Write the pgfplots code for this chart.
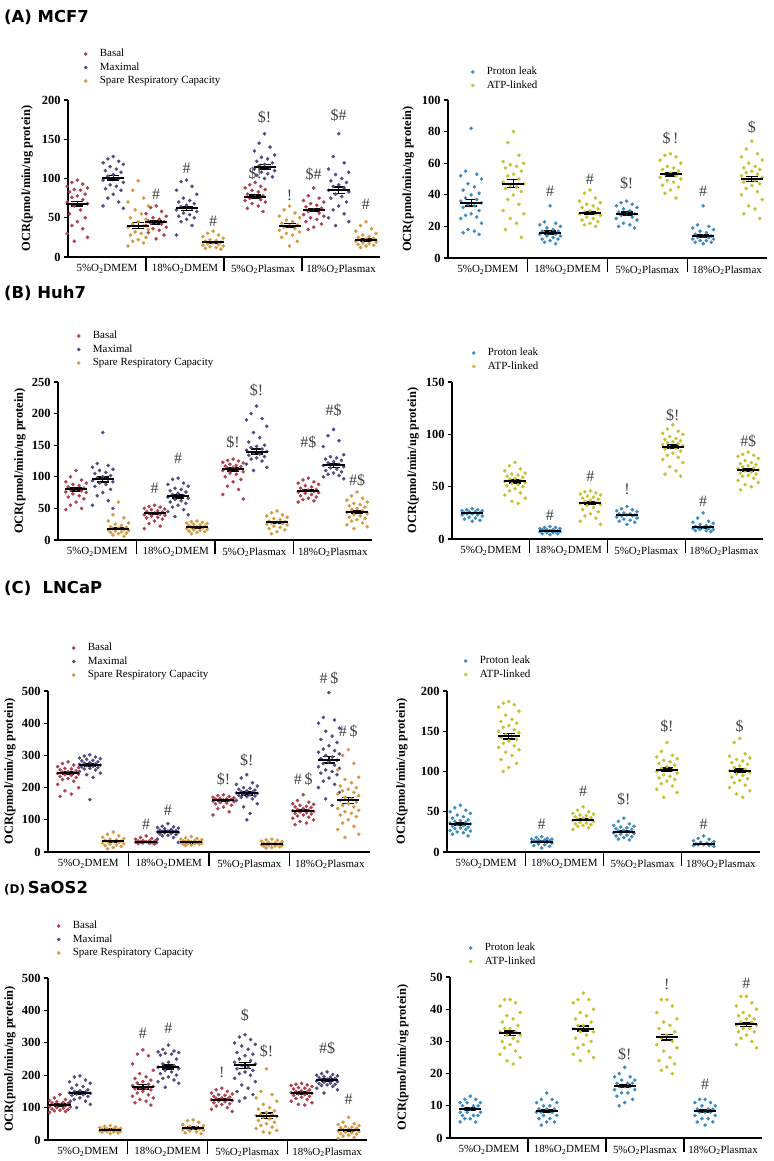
\documentclass[border=0pt]{standalone}
\usepackage{fontspec}
\setmainfont{Liberation Serif}
\newfontfamily\titlefont{DejaVu Sans}
\usepackage{pgfplots}
\pgfplotsset{compat=1.18}
\definecolor{bas}{HTML}{B0414F}
\definecolor{mx}{HTML}{504C88}
\definecolor{sp}{HTML}{D69A3E}
\definecolor{pl}{HTML}{3D8CC0}
\definecolor{atp}{HTML}{C8C02F}
\newcommand{\clus}[3]{\addplot[forget plot, only marks, mark=*, mark size=1.6bp, color=#1, x filter/.expression={x/100+#2}] coordinates {#3};}
\newcommand{\means}[1]{\addplot[forget plot, only marks, mark=-, mark size=11bp, mark options={line width=2bp}, color=black, error bars/.cd, y dir=both, y explicit, error mark=|, error mark options={mark size=6bp, line width=1.4bp, black}, error bar style={line width=1.2bp, black}] coordinates {#1};}
\newcommand{\ann}[3]{\node[font=\fontsize{16}{16}\selectfont, text=black!75, inner sep=0pt] at (axis cs:#1,#2) {#3};}
\pgfplotsset{
  base/.style={scale only axis, xmin=0, xmax=4, ymin=0, clip=false,
    axis x line*=bottom, axis y line*=left,
    axis line style={line width=1.2bp, -},
    xtick={0.5,1.5,2.5,3.5},
    xticklabels={5\%O\textsubscript{2}DMEM, 18\%O\textsubscript{2}DMEM, 5\%O\textsubscript{2}Plasmax, 18\%O\textsubscript{2}Plasmax},
    minor xtick={1,2,3},
    minor tick length=14bp,
    major tick length=4bp,
    tick align=outside,
    tick style={line width=1.2bp, black},
    every major x tick/.append style={draw=none},
    xticklabel style={font=\fontsize{11}{12}\selectfont},
    yticklabel style={font=\bfseries\fontsize{12.5}{12}\selectfont},
    /pgf/number format/assume math mode=true,
    ylabel={OCR(pmol/min/ug protein)},
    legend style={draw=none, fill=none, inner sep=0pt, font=\fontsize{11}{12}\selectfont, nodes={inner sep=1.5bp, text height=8bp, text depth=2.5bp}, anchor=north west, /tikz/every odd column/.append style={column sep=11bp}},
    legend cell align=left,
  },
  ylabpos/.style={every axis y label/.style={at={(axis description cs:#1,0.5)}, rotate=90, anchor=center, font=\bfseries\fontsize{12.5}{14}\selectfont}},
  legpos/.style 2 args={legend style={at={(axis description cs:0,1)}, xshift=#1, yshift=#2}},
}
\begin{document}
\begin{tikzpicture}
\useasboundingbox (0,0) rectangle (774bp,-1161bp);
\node[anchor=west, font=\titlefont\bfseries\fontsize{16.5}{20}\selectfont, inner sep=0pt] at (4bp,-17bp) {(A) MCF7};
\node[anchor=west, font=\titlefont\bfseries\fontsize{16.5}{20}\selectfont, inner sep=0pt] at (4bp,-293bp) {(B) Huh7};
\node[anchor=west, font=\titlefont\bfseries\fontsize{16.5}{20}\selectfont, inner sep=0pt] at (4bp,-588bp) {(C)\ \ LNCaP};
\node[anchor=west, font=\titlefont\bfseries\fontsize{16.5}{20}\selectfont, inner sep=0pt] at (4bp,-888bp) {{\fontsize{12}{14}\selectfont(D)}\,SaOS2};

% ---------------- A left
\begin{axis}[base, at={(68bp,-257bp)}, anchor=south west, width=312bp, height=157bp, ymax=200, ytick={0,50,...,200}, ylabpos=-0.131, legpos={16bp}{53bp}]
\addlegendimage{only marks, mark=*, mark size=1.6bp, color=bas}\addlegendentry{Basal}
\addlegendimage{only marks, mark=*, mark size=1.6bp, color=mx}\addlegendentry{Maximal}
\addlegendimage{only marks, mark=*, mark size=1.6bp, color=sp}\addlegendentry{Spare Respiratory Capacity}
\clus{bas}{0.12}{(0,98)(-7,95)(7,93)(-13,90)(13,88)(-4,86)(4,85)(-10,83)(10,80)(0,78)(-7,76)(7,73)(-13,70)(13,68)(-4,65)(4,60)(-10,55)(10,50)(0,45)(-7,40)(7,36)(-13,30)(13,25)(-4,20)}
\clus{bas}{1.13}{(0,65)(-7,63)(7,58)(-13,55)(13,52)(-4,50)(4,48)(-10,46)(10,45)(0,44)(-7,43)(7,42)(-13,40)(13,38)(-4,36)(4,34)(-10,31)(10,28)(0,23)}
\clus{bas}{2.40}{(0,95)(-7,92)(7,90)(-13,88)(13,86)(-4,85)(4,83)(-10,80)(10,78)(0,77)(-7,75)(7,73)(-13,72)(13,70)(-4,68)(4,65)(-10,62)(10,58)}
\clus{bas}{3.15}{(0,88)(-7,78)(7,75)(-13,72)(13,70)(-4,68)(4,66)(-10,64)(10,62)(0,60)(-7,58)(7,56)(-13,54)(13,52)(-4,50)(4,48)(-10,45)(10,42)(0,38)(-7,35)}
\clus{mx}{0.58}{(0,128)(-7,125)(7,122)(-13,120)(13,118)(-4,115)(4,112)(-10,110)(10,108)(0,105)(-7,103)(7,100)(-13,98)(13,95)(-4,92)(4,90)(-10,87)(10,85)(0,80)(-7,75)(7,70)(-13,65)(13,62)}
\clus{mx}{1.52}{(0,98)(-7,96)(7,90)(-13,85)(13,80)(-4,75)(4,72)(-10,70)(10,68)(0,66)(-7,64)(7,62)(-13,60)(13,58)(-4,56)(4,54)(-10,52)(10,50)(0,48)(-7,45)(7,40)(-13,28)}
\clus{mx}{2.52}{(0,157)(-7,145)(7,140)(-13,135)(13,130)(-4,127)(4,125)(-10,122)(10,120)(0,118)(-7,116)(7,114)(-13,112)(13,110)(-4,108)(4,106)(-10,104)(10,102)(0,100)}
\clus{mx}{3.47}{(0,157)(-7,128)(7,120)(-13,112)(13,108)(-4,105)(4,100)(-10,97)(10,95)(0,92)(-7,90)(7,88)(-13,85)(13,83)(-4,80)(4,77)(-10,75)(10,70)(0,65)(-7,60)(7,55)(-13,50)(13,45)(-4,40)}
\clus{sp}{0.90}{(0,97)(-7,85)(7,75)(-13,70)(13,65)(-4,60)(4,55)(-10,50)(10,48)(0,45)(-7,42)(7,40)(-13,38)(13,35)(-4,32)(4,30)(-10,28)(10,25)(0,22)(-7,20)(7,18)(-13,14)}
\clus{sp}{1.86}{(0,33)(-7,30)(7,28)(-13,26)(13,24)(-4,22)(4,21)(-10,20)(10,19)(0,18)(-7,17)(7,16)(-13,15)(13,14)(-4,13)(4,12)(-10,11)(10,10)}
\clus{sp}{2.84}{(0,65)(-7,60)(7,56)(-13,52)(13,50)(-4,47)(4,45)(-10,43)(10,41)(0,40)(-7,38)(7,36)(-13,34)(13,32)(-4,30)(4,28)(-10,25)(10,20)(0,14)}
\clus{sp}{3.82}{(0,45)(-7,40)(7,36)(-13,33)(13,30)(-4,28)(4,26)(-10,25)(10,24)(0,23)(-7,22)(7,21)(-13,20)(13,19)(-4,18)(4,17)(-10,16)(10,15)(0,14)(-7,12)}
\means{(0.12,68)+-(0,3)(0.58,101)+-(0,3)(0.90,40)+-(0,4)(1.13,44)+-(0,2)(1.52,62)+-(0,2.5)(1.86,19)+-(0,1)(2.40,77)+-(0,2)(2.52,115)+-(0,3)(2.84,40)+-(0,2.5)(3.15,60)+-(0,2)(3.47,85)+-(0,4)(3.82,22)+-(0,1.5)}
\ann{1.13}{80}{\#}\ann{1.52}{113}{\#}\ann{1.86}{45}{\#}
\ann{2.40}{107}{\$!}\ann{2.52}{178}{\$!}\ann{2.84}{78}{!}
\ann{3.15}{105}{\$\#}\ann{3.47}{180}{\$\#}\ann{3.82}{67}{\#}
\end{axis}

% ---------------- A right
\begin{axis}[base, at={(448bp,-258bp)}, anchor=south west, width=319bp, height=158bp, ymax=100, ytick={0,20,...,100}, ylabpos=-0.125, legpos={23bp}{35bp}]
\addlegendimage{only marks, mark=*, mark size=1.6bp, color=pl}\addlegendentry{Proton leak}
\addlegendimage{only marks, mark=*, mark size=1.6bp, color=atp}\addlegendentry{ATP-linked}
\clus{pl}{0.29}{(0,82)(-7,55)(7,53)(-13,52)(13,50)(-4,47)(4,45)(-10,43)(10,41)(0,40)(-7,38)(7,37)(-13,36)(13,35)(-4,34)(4,33)(-10,32)(10,30)(0,28)(-7,27)(7,26)(-13,25)(13,22)(-4,18)(4,17)(-10,16)(10,15)}
\clus{pl}{1.28}{(0,33)(-7,23)(7,22)(-13,21)(13,20)(-4,19)(4,18)(-10,17)(10,17)(0,16)(-7,16)(7,15)(-13,15)(13,14)(-4,14)(4,13)(-10,12)(10,12)(0,11)(-7,10)(7,9)}
\clus{pl}{2.24}{(0,36)(-7,35)(7,34)(-13,33)(13,32)(-4,31)(4,30)(-10,29)(10,28)(0,28)(-7,27)(7,26)(-13,25)(13,24)(-4,22)(4,21)(-10,20)(10,19)}
\clus{pl}{3.20}{(0,33)(-7,21)(7,20)(-13,19)(13,18)(-4,17)(4,16)(-10,15)(10,14)(0,14)(-7,13)(7,13)(-13,12)(13,12)(-4,11)(4,11)(-10,10)(10,10)(0,9)}
\clus{atp}{0.82}{(0,80)(-7,73)(7,65)(-13,61)(13,60)(-4,59)(4,58)(-10,57)(10,55)(0,53)(-7,52)(7,50)(-13,48)(13,47)(-4,46)(4,45)(-10,44)(10,42)(0,40)(-7,37)(7,34)(-13,30)(13,28)(-4,25)(4,22)(-10,18)(10,13)}
\clus{atp}{1.78}{(0,43)(-7,41)(7,38)(-13,36)(13,35)(-4,34)(4,33)(-10,32)(10,31)(0,30)(-7,29)(7,28)(-13,28)(13,27)(-4,26)(4,25)(-10,24)(10,23)(0,22)(-7,21)(7,20)}
\clus{atp}{2.79}{(0,66)(-7,65)(7,64)(-13,62)(13,60)(-4,58)(4,57)(-10,56)(10,55)(0,54)(-7,53)(7,52)(-13,51)(13,50)(-4,49)(4,48)(-10,46)(10,45)(0,43)(-7,41)(7,38)}
\clus{atp}{3.81}{(0,74)(-7,69)(7,66)(-13,64)(13,62)(-4,60)(4,58)(-10,57)(10,56)(0,55)(-7,54)(7,53)(-13,52)(13,51)(-4,50)(4,49)(-10,48)(10,47)(0,46)(-7,44)(7,42)(-13,40)(13,37)(-4,33)(4,31)(-10,28)(10,25)}
\means{(0.29,35)+-(0,2)(0.82,47)+-(0,2.5)(1.28,16)+-(0,1)(1.78,28.5)+-(0,1)(2.24,28)+-(0,1)(2.79,53)+-(0,1.2)(3.20,14)+-(0,1)(3.81,50)+-(0,1.5)}
\ann{1.28}{42}{\#}\ann{1.78}{50}{\#}\ann{2.24}{47}{\$!}\ann{2.79}{76}{\$\,!}\ann{3.20}{42}{\#}\ann{3.81}{83}{\$}
\end{axis}

% ---------------- B left
\begin{axis}[base, at={(58bp,-540bp)}, anchor=south west, width=314bp, height=158bp, ymax=250, ytick={0,50,...,250}, ylabpos=-0.121, legpos={19bp}{53bp}]
\addlegendimage{only marks, mark=*, mark size=1.6bp, color=bas}\addlegendentry{Basal}
\addlegendimage{only marks, mark=*, mark size=1.6bp, color=mx}\addlegendentry{Maximal}
\addlegendimage{only marks, mark=*, mark size=1.6bp, color=sp}\addlegendentry{Spare Respiratory Capacity}
\clus{bas}{0.23}{(0,110)(-7,100)(7,95)(-13,92)(13,90)(-4,88)(4,86)(-10,84)(10,82)(0,80)(-7,79)(7,78)(-13,76)(13,75)(-4,73)(4,70)(-10,68)(10,65)(0,60)(-7,55)(7,50)(-13,48)}
\clus{bas}{1.23}{(0,55)(-7,53)(7,52)(-13,50)(13,49)(-4,48)(4,46)(-10,45)(10,44)(0,43)(-7,42)(7,41)(-13,40)(13,39)(-4,38)(4,36)(-10,35)(10,33)(0,30)(-7,26)(7,22)(-13,18)}
\clus{bas}{2.23}{(0,128)(-7,126)(7,125)(-13,123)(13,122)(-4,120)(4,118)(-10,117)(10,116)(0,115)(-7,114)(7,112)(-13,110)(13,108)(-4,106)(4,104)(-10,100)(10,96)(0,92)(-7,85)(7,80)(-13,72)(13,65)}
\clus{bas}{3.19}{(0,98)(-7,95)(7,92)(-13,90)(13,88)(-4,86)(4,84)(-10,82)(10,80)(0,79)(-7,78)(7,77)(-13,76)(13,75)(-4,74)(4,72)(-10,70)(10,68)(0,66)(-7,64)(7,62)(-13,60)}
\clus{mx}{0.57}{(0,170)(-7,121)(7,118)(-13,115)(13,112)(-4,110)(4,107)(-10,105)(10,102)(0,100)(-7,98)(7,96)(-13,94)(13,92)(-4,90)(4,88)(-10,85)(10,80)(0,75)(-7,70)(7,62)(-13,55)(13,50)}
\clus{mx}{1.53}{(0,98)(-7,96)(7,90)(-13,88)(13,85)(-4,82)(4,80)(-10,78)(10,76)(0,74)(-7,72)(7,70)(-13,68)(13,66)(-4,64)(4,62)(-10,60)(10,58)(0,55)(-7,52)(7,48)(-13,45)(13,40)(-4,37)}
\clus{mx}{2.53}{(0,212)(-7,200)(7,192)(-13,190)(13,180)(-4,170)(4,162)(-10,155)(10,150)(0,148)(-7,146)(7,144)(-13,142)(13,140)(-4,138)(4,136)(-10,134)(10,132)(0,130)(-7,128)(7,125)(-13,120)(13,115)(-4,110)}
\clus{mx}{3.51}{(0,175)(-7,165)(7,157)(-13,148)(13,135)(-4,132)(4,130)(-10,128)(10,126)(0,124)(-7,122)(7,120)(-13,118)(13,116)(-4,114)(4,112)(-10,110)(10,108)(0,106)(-7,104)(7,102)(-13,100)(13,97)}
\clus{sp}{0.77}{(0,60)(-7,40)(7,35)(-13,30)(13,27)(-4,25)(4,23)(-10,21)(10,20)(0,19)(-7,18)(7,17)(-13,16)(13,15)(-4,14)(4,13)(-10,12)(10,11)(0,10)(-7,8)(7,6)}
\clus{sp}{1.77}{(0,30)(-7,29)(7,28)(-13,27)(13,26)(-4,25)(4,24)(-10,23)(10,22)(0,21)(-7,20)(7,19)(-13,18)(13,17)(-4,16)(4,15)(-10,14)(10,13)(0,12)(-7,10)}
\clus{sp}{2.79}{(0,46)(-7,43)(7,40)(-13,38)(13,36)(-4,34)(4,32)(-10,30)(10,29)(0,28)(-7,27)(7,26)(-13,25)(13,24)(-4,22)(4,20)(-10,18)(10,16)(0,13)(-7,10)}
\clus{sp}{3.81}{(0,76)(-7,70)(7,66)(-13,63)(13,60)(-4,58)(4,56)(-10,54)(10,52)(0,50)(-7,48)(7,46)(-13,44)(13,42)(-4,40)(4,38)(-10,36)(10,34)(0,32)(-7,30)(7,27)(-13,24)(13,21)(-4,18)}
\means{(0.23,80)+-(0,2.5)(0.57,96)+-(0,4)(0.77,18)+-(0,1.5)(1.23,42)+-(0,1.5)(1.53,69)+-(0,2.5)(1.77,20)+-(0,1)(2.23,112)+-(0,2.5)(2.53,140)+-(0,4)(2.79,28)+-(0,1.5)(3.19,78)+-(0,1.5)(3.51,118)+-(0,3)(3.81,44)+-(0,2.5)}
\ann{1.23}{82}{\#}\ann{1.53}{129}{\#}\ann{2.23}{154}{\$!}\ann{2.53}{237}{\$!}
\ann{3.19}{154}{\#\$}\ann{3.51}{205}{\#\$}\ann{3.81}{95}{\#\$}
\end{axis}

% ---------------- B right
\begin{axis}[base, at={(452bp,-539bp)}, anchor=south west, width=311bp, height=157bp, ymax=150, ytick={0,50,...,150}, ylabpos=-0.125, legpos={20bp}{36bp}]
\addlegendimage{only marks, mark=*, mark size=1.6bp, color=pl}\addlegendentry{Proton leak}
\addlegendimage{only marks, mark=*, mark size=1.6bp, color=atp}\addlegendentry{ATP-linked}
\clus{pl}{0.26}{(0,29)(-7,28)(7,28)(-13,27)(13,27)(-4,26)(4,26)(-10,25)(10,25)(0,24)(-7,24)(7,23)(-13,23)(13,22)(-4,21)(4,20)(-10,19)(10,18)(0,17)}
\clus{pl}{1.26}{(0,12)(-7,11)(7,11)(-13,10)(13,10)(-4,9)(4,9)(-10,9)(10,8)(0,8)(-7,8)(7,7)(-13,7)(13,7)(-4,6)(4,6)(-10,5)(10,5)(0,4)}
\clus{pl}{2.25}{(0,31)(-7,29)(7,28)(-13,27)(13,26)(-4,25)(4,24)(-10,24)(10,23)(0,23)(-7,22)(7,22)(-13,21)(13,20)(-4,19)(4,18)(-10,17)(10,16)(0,14)}
\clus{pl}{3.23}{(0,25)(-7,20)(7,17)(-13,16)(13,15)(-4,14)(4,13)(-10,12)(10,12)(0,11)(-7,11)(7,10)(-13,10)(13,9)(-4,9)(4,8)(-10,8)(10,7)}
\clus{atp}{0.81}{(0,73)(-7,70)(7,67)(-13,65)(13,63)(-4,62)(4,61)(-10,60)(10,59)(0,58)(-7,57)(7,56)(-13,55)(13,54)(-4,53)(4,52)(-10,51)(10,50)(0,48)(-7,46)(7,44)(-13,42)(13,39)(-4,36)(4,34)}
\clus{atp}{1.78}{(0,46)(-7,45)(7,44)(-13,43)(13,42)(-4,41)(4,40)(-10,39)(10,38)(0,37)(-7,36)(7,35)(-13,34)(13,33)(-4,32)(4,30)(-10,28)(10,26)(0,24)(-7,22)(7,20)(-13,17)(13,14)}
\clus{atp}{2.84}{(0,109)(-7,105)(7,103)(-13,101)(13,100)(-4,98)(4,96)(-10,95)(10,94)(0,93)(-7,92)(7,91)(-13,90)(13,89)(-4,88)(4,87)(-10,86)(10,84)(0,82)(-7,80)(7,78)(-13,76)(13,73)(-4,69)(4,65)(-10,62)(10,60)}
\clus{atp}{3.81}{(0,83)(-7,81)(7,80)(-13,79)(13,77)(-4,75)(4,73)(-10,72)(10,71)(0,70)(-7,69)(7,68)(-13,67)(13,66)(-4,65)(4,64)(-10,63)(10,62)(0,61)(-7,60)(7,58)(-13,56)(13,54)(-4,52)(4,50)(-10,47)}
\means{(0.26,25)+-(0,0.6)(0.81,55)+-(0,1.3)(1.26,8)+-(0,0.4)(1.78,34)+-(0,1.2)(2.25,23)+-(0,0.6)(2.84,88)+-(0,1.8)(3.23,11)+-(0,0.6)(3.81,66)+-(0,1.3)}
\ann{1.26}{23}{\#}\ann{1.78}{60}{\#}\ann{2.25}{47}{!}\ann{2.84}{118}{\$!}\ann{3.23}{36}{\#}\ann{3.81}{93}{\#\$}
\end{axis}

% ---------------- C left
\begin{axis}[base, at={(48bp,-852bp)}, anchor=south west, width=322bp, height=161bp, ymax=500, ytick={0,100,...,500}, ylabpos=-0.118, legpos={24bp}{50bp}]
\addlegendimage{only marks, mark=*, mark size=1.6bp, color=bas}\addlegendentry{Basal}
\addlegendimage{only marks, mark=*, mark size=1.6bp, color=mx}\addlegendentry{Maximal}
\addlegendimage{only marks, mark=*, mark size=1.6bp, color=sp}\addlegendentry{Spare Respiratory Capacity}
\clus{bas}{0.25}{(0,280)(-7,275)(7,270)(-13,265)(13,262)(-4,260)(4,258)(-10,255)(10,252)(0,250)(-7,248)(7,246)(-13,244)(13,242)(-4,240)(4,238)(-10,235)(10,232)(0,228)(-7,225)(7,220)(-13,210)(13,200)(-4,190)(4,180)(-10,173)}
\clus{bas}{1.22}{(0,50)(-7,45)(7,42)(-13,40)(13,38)(-4,36)(4,35)(-10,34)(10,33)(0,32)(-7,31)(7,30)(-13,30)(13,29)(-4,28)(4,27)(-10,26)(10,25)}
\clus{bas}{2.18}{(0,178)(-7,175)(7,172)(-13,170)(13,168)(-4,166)(4,165)(-10,164)(10,163)(0,162)(-7,161)(7,160)(-13,158)(13,156)(-4,154)(4,152)(-10,150)(10,145)(0,140)(-7,135)(7,125)(-13,115)}
\clus{bas}{3.17}{(0,178)(-7,160)(7,155)(-13,150)(13,148)(-4,145)(4,142)(-10,140)(10,138)(0,135)(-7,132)(7,130)(-13,128)(13,126)(-4,124)(4,122)(-10,120)(10,118)(0,115)(-7,112)(7,108)(-13,105)(13,100)(-4,95)(4,90)(-10,85)}
\clus{mx}{0.52}{(0,302)(-7,298)(7,295)(-13,292)(13,290)(-4,288)(4,285)(-10,283)(10,280)(0,278)(-7,276)(7,274)(-13,272)(13,270)(-4,268)(4,266)(-10,264)(10,262)(0,260)(-7,258)(7,255)(-13,250)(13,245)(-4,240)(4,232)(0,163)}
\clus{mx}{1.49}{(0,88)(-7,80)(7,78)(-13,76)(13,74)(-4,72)(4,70)(-10,68)(10,66)(0,65)(-7,64)(7,63)(-13,62)(13,61)(-4,60)(4,58)(-10,56)(10,54)(0,52)(-7,50)(7,45)(-13,40)(13,30)}
\clus{mx}{2.47}{(0,240)(-7,230)(7,215)(-13,210)(13,205)(-4,200)(4,198)(-10,195)(10,192)(0,190)(-7,188)(7,186)(-13,184)(13,182)(-4,180)(4,178)(-10,176)(10,174)(0,172)(-7,170)(7,165)(-13,160)(13,150)(-4,140)(4,120)(0,100)}
\clus{mx}{3.49}{(0,495)(-7,418)(7,410)(-13,400)(13,385)(-4,375)(4,360)(-10,350)(10,340)(0,330)(-7,320)(7,315)(-13,310)(13,305)(-4,300)(4,295)(-10,290)(10,285)(0,280)(-7,275)(7,270)(-13,265)(13,260)(-4,255)(4,250)(-10,245)(10,240)(0,230)(-7,220)(7,210)(-13,200)(13,185)(-4,165)(4,145)}
\clus{sp}{0.81}{(0,62)(-7,55)(7,50)(-13,46)(13,42)(-4,40)(4,38)(-10,36)(10,34)(0,33)(-7,32)(7,30)(-13,28)(13,26)(-4,24)(4,22)(-10,20)(10,17)(0,14)(-7,10)}
\clus{sp}{1.78}{(0,48)(-7,44)(7,42)(-13,40)(13,38)(-4,36)(4,35)(-10,34)(10,33)(0,32)(-7,31)(7,30)(-13,29)(13,28)(-4,27)(4,26)(-10,25)(10,24)(0,22)(-7,20)}
\clus{sp}{2.78}{(0,40)(-7,38)(7,36)(-13,34)(13,32)(-4,30)(4,28)(-10,27)(10,26)(0,25)(-7,24)(7,23)(-13,22)(13,21)(-4,20)(4,19)(-10,18)(10,16)(0,14)(-7,12)}
\clus{sp}{3.73}{(0,318)(-7,300)(7,275)(-13,255)(13,232)(-4,225)(4,215)(-10,205)(10,200)(0,195)(-7,190)(7,185)(-13,180)(13,175)(-4,170)(4,165)(-10,160)(10,155)(0,150)(-7,145)(7,140)(-13,135)(13,130)(-4,125)(4,120)(-10,115)(10,110)(0,100)(-7,90)(7,80)(-13,70)(13,55)(-4,45)}
\means{(0.25,245)+-(0,5)(0.52,270)+-(0,5)(0.81,33)+-(0,3)(1.22,32)+-(0,1.5)(1.49,63)+-(0,2.5)(1.78,30)+-(0,1.5)(2.18,160)+-(0,3)(2.47,182)+-(0,5)(2.78,24)+-(0,1.5)(3.17,128)+-(0,3)(3.49,287)+-(0,10)(3.73,160)+-(0,9)}
\ann{1.22}{85}{\#}\ann{1.49}{131}{\#}\ann{2.18}{227}{\$!}\ann{2.47}{286}{\$!}
\ann{3.17}{227}{\#\,\$}\ann{3.49}{539}{\#\,\$}\ann{3.73}{374}{\#\,\$}
\end{axis}

% ---------------- C right
\begin{axis}[base, at={(447bp,-852bp)}, anchor=south west, width=313bp, height=161bp, ymax=200, ytick={0,50,...,200}, ylabpos=-0.144, legpos={17bp}{37bp}]
\addlegendimage{only marks, mark=*, mark size=1.6bp, color=pl}\addlegendentry{Proton leak}
\addlegendimage{only marks, mark=*, mark size=1.6bp, color=atp}\addlegendentry{ATP-linked}
\clus{pl}{0.17}{(0,58)(-7,55)(7,52)(-13,50)(13,48)(-4,46)(4,44)(-10,42)(10,40)(0,39)(-7,38)(7,37)(-13,36)(13,35)(-4,34)(4,33)(-10,32)(10,31)(0,30)(-7,29)(7,28)(-13,27)(13,26)(-4,25)(4,24)(-10,22)(10,20)}
\clus{pl}{1.21}{(0,19)(-7,18)(7,17)(-13,16)(13,16)(-4,15)(4,15)(-10,14)(10,14)(0,13)(-7,13)(7,12)(-13,12)(13,11)(-4,10)(4,9)(-10,8)(10,7)(0,5)}
\clus{pl}{2.26}{(0,42)(-7,38)(7,35)(-13,33)(13,32)(-4,31)(4,30)(-10,29)(10,28)(0,27)(-7,26)(7,25)(-13,24)(13,23)(-4,22)(4,21)(-10,20)(10,19)(0,18)(-7,16)(7,15)}
\clus{pl}{3.28}{(0,20)(-7,17)(7,16)(-13,14)(13,13)(-4,12)(4,11)(-10,10)(10,10)(0,9)(-7,9)(7,8)(-13,8)(13,7)}
\clus{atp}{0.79}{(0,187)(-7,185)(7,183)(-13,180)(13,175)(-4,170)(4,165)(-10,162)(10,160)(0,157)(-7,155)(7,152)(-13,150)(13,148)(-4,146)(4,144)(-10,142)(10,140)(0,138)(-7,135)(7,132)(-13,130)(13,127)(-4,124)(4,120)(-10,115)(10,110)(0,105)(-7,100)}
\clus{atp}{1.74}{(0,56)(-7,52)(7,50)(-13,48)(13,47)(-4,46)(4,45)(-10,44)(10,43)(0,42)(-7,41)(7,40)(-13,39)(13,38)(-4,37)(4,36)(-10,35)(10,34)(0,33)(-7,32)(7,30)(-13,28)}
\clus{atp}{2.81}{(0,136)(-7,125)(7,120)(-13,118)(13,116)(-4,114)(4,112)(-10,110)(10,108)(0,106)(-7,104)(7,102)(-13,100)(13,98)(-4,96)(4,94)(-10,92)(10,90)(0,88)(-7,85)(7,82)(-13,78)(13,74)(-4,68)}
\clus{atp}{3.74}{(0,141)(-7,136)(7,122)(-13,119)(13,117)(-4,115)(4,113)(-10,111)(10,109)(0,107)(-7,105)(7,103)(-13,101)(13,99)(-4,97)(4,95)(-10,93)(10,91)(0,89)(-7,86)(7,83)(-13,80)(13,76)(-4,72)(4,68)}
\means{(0.17,35)+-(0,1.3)(0.79,144)+-(0,3.5)(1.21,13)+-(0,0.5)(1.74,40)+-(0,1)(2.26,25)+-(0,1)(2.81,102)+-(0,2.2)(3.28,10)+-(0,0.5)(3.74,101)+-(0,2.2)}
\ann{1.21}{35}{\#}\ann{1.74}{75}{\#}\ann{2.26}{65}{\$!}\ann{2.81}{156}{\$!}\ann{3.28}{35}{\#}\ann{3.74}{156}{\$}
\end{axis}

% ---------------- D left
\begin{axis}[base, at={(48bp,-1140bp)}, anchor=south west, width=319bp, height=162bp, ymax=500, ytick={0,100,...,500}, ylabpos=-0.119, legpos={9bp}{59bp}]
\addlegendimage{only marks, mark=*, mark size=1.6bp, color=bas}\addlegendentry{Basal}
\addlegendimage{only marks, mark=*, mark size=1.6bp, color=mx}\addlegendentry{Maximal}
\addlegendimage{only marks, mark=*, mark size=1.6bp, color=sp}\addlegendentry{Spare Respiratory Capacity}
\clus{bas}{0.15}{(0,140)(-7,130)(7,125)(-13,122)(13,120)(-4,118)(4,116)(-10,114)(10,112)(0,110)(-7,108)(7,106)(-13,104)(13,102)(-4,100)(4,98)(-10,96)(10,94)(0,92)(-7,90)(7,88)(-13,85)}
\clus{bas}{1.19}{(0,278)(-7,265)(7,260)(-13,235)(13,215)(-4,205)(4,195)(-10,190)(10,185)(0,180)(-7,176)(7,172)(-13,168)(13,165)(-4,162)(4,160)(-10,158)(10,155)(0,150)(-7,145)(7,140)(-13,135)(13,130)(-4,125)(4,120)(-10,115)(10,108)}
\clus{bas}{2.18}{(0,160)(-7,155)(7,150)(-13,145)(13,142)(-4,140)(4,138)(-10,135)(10,132)(0,130)(-7,128)(7,126)(-13,124)(13,122)(-4,120)(4,118)(-10,115)(10,112)(0,110)(-7,105)(7,100)(-13,95)(13,88)}
\clus{bas}{3.18}{(0,175)(-7,172)(7,170)(-13,168)(13,165)(-4,162)(4,160)(-10,158)(10,155)(0,152)(-7,150)(7,148)(-13,146)(13,144)(-4,142)(4,140)(-10,138)(10,135)(0,132)(-7,128)(7,125)(-13,120)(13,115)(-4,110)(4,108)}
\clus{mx}{0.40}{(0,198)(-7,195)(7,185)(-13,180)(13,175)(-4,170)(4,165)(-10,160)(10,155)(0,152)(-7,150)(7,148)(-13,146)(13,144)(-4,142)(4,140)(-10,138)(10,135)(0,130)(-7,125)(7,120)(-13,115)(13,110)(-4,100)}
\clus{mx}{1.51}{(0,293)(-7,280)(7,275)(-13,272)(13,270)(-4,268)(4,265)(-10,262)(10,250)(0,240)(-7,235)(7,230)(-13,225)(13,220)(-4,215)(4,210)(-10,205)(10,200)(0,195)(-7,190)(7,185)(-13,180)(13,175)(-4,163)}
\clus{mx}{2.47}{(0,325)(-7,318)(7,310)(-13,300)(13,295)(-4,290)(4,280)(-10,270)(10,265)(0,260)(-7,250)(7,245)(-13,240)(13,235)(-4,230)(4,225)(-10,220)(10,215)(0,210)(-7,205)(7,200)(-13,190)(13,180)(-4,170)(4,160)(-10,150)(10,140)(0,130)(-7,120)}
\clus{mx}{3.50}{(0,210)(-7,205)(7,202)(-13,200)(13,198)(-4,196)(4,194)(-10,192)(10,190)(0,188)(-7,186)(7,184)(-13,182)(13,180)(-4,178)(4,176)(-10,174)(10,172)(0,170)(-7,168)(7,165)(-13,160)(13,155)(-4,145)}
\clus{sp}{0.78}{(0,45)(-7,42)(7,40)(-13,38)(13,36)(-4,35)(4,34)(-10,33)(10,32)(0,31)(-7,30)(7,29)(-13,28)(13,27)(-4,26)(4,25)(-10,24)(10,22)(0,20)}
\clus{sp}{1.82}{(0,62)(-7,60)(7,55)(-13,48)(13,44)(-4,42)(4,40)(-10,38)(10,36)(0,35)(-7,34)(7,33)(-13,32)(13,30)(-4,28)(4,25)(-10,22)(10,20)}
\clus{sp}{2.74}{(0,220)(-7,150)(7,140)(-13,130)(13,120)(-4,110)(4,100)(-10,95)(10,90)(0,85)(-7,80)(7,78)(-13,75)(13,72)(-4,70)(4,65)(-10,60)(10,55)(0,50)(-7,45)(7,40)(-13,35)(13,30)(-4,25)(4,22)}
\clus{sp}{3.77}{(0,70)(-7,55)(7,50)(-13,48)(13,45)(-4,42)(4,40)(-10,38)(10,36)(0,34)(-7,32)(7,30)(-13,28)(13,26)(-4,24)(4,22)(-10,20)(10,18)(0,15)(-7,12)(7,8)(-13,5)}
\means{(0.15,108)+-(0,3)(0.40,145)+-(0,5)(0.78,32)+-(0,1.5)(1.19,165)+-(0,7)(1.51,225)+-(0,6)(1.82,37)+-(0,3)(2.18,125)+-(0,3.5)(2.47,230)+-(0,9)(2.74,75)+-(0,8)(3.18,145)+-(0,3.5)(3.50,185)+-(0,3)(3.77,30)+-(0,3)}
\ann{1.19}{330}{\#}\ann{1.51}{345}{\#}\ann{2.18}{208}{!}\ann{2.47}{385}{\$}\ann{2.74}{273}{\$!}
\ann{3.50}{284}{\#\$}\ann{3.77}{126}{\#}
\end{axis}

% ---------------- D right
\begin{axis}[base, at={(450bp,-1138bp)}, anchor=south west, width=312bp, height=161bp, ymax=50, ytick={0,10,...,50}, ylabpos=-0.151, legpos={19bp}{36bp}]
\addlegendimage{only marks, mark=*, mark size=1.6bp, color=pl}\addlegendentry{Proton leak}
\addlegendimage{only marks, mark=*, mark size=1.6bp, color=atp}\addlegendentry{ATP-linked}
\clus{pl}{0.26}{(0,13)(-7,12)(7,12)(-13,11)(13,11)(-4,11)(4,10)(-10,10)(10,10)(0,9)(-7,9)(7,9)(-13,8)(13,8)(-4,8)(4,7)(-10,7)(10,7)(0,6)(-7,6)(7,5)(-13,5)}
\clus{pl}{1.24}{(0,14)(-7,12)(7,12)(-13,11)(13,11)(-4,10)(4,10)(-10,9)(10,9)(0,9)(-7,8)(7,8)(-13,8)(13,7)(-4,7)(4,6)(-10,6)(10,5)(0,5)(-7,4)}
\clus{pl}{2.24}{(0,22)(-7,20)(7,19)(-13,19)(13,18)(-4,18)(4,17)(-10,17)(10,17)(0,16)(-7,16)(7,16)(-13,15)(13,15)(-4,14)(4,14)(-10,13)(10,12)(0,11)(-7,10)}
\clus{pl}{3.27}{(0,12)(-7,12)(7,11)(-13,11)(13,10)(-4,10)(4,9)(-10,9)(10,9)(0,8)(-7,8)(7,8)(-13,7)(13,7)(-4,6)(4,6)(-10,5)(10,5)(0,4)}
\clus{atp}{0.77}{(0,43)(-7,43)(7,42)(-13,41)(13,39)(-4,38)(4,37)(-10,36)(10,35)(0,34)(-7,34)(7,33)(-13,33)(13,32)(-4,32)(4,31)(-10,30)(10,30)(0,29)(-7,28)(7,27)(-13,26)(13,25)(-4,24)(4,23)}
\clus{atp}{1.71}{(0,45)(-7,43)(7,43)(-13,42)(13,40)(-4,39)(4,38)(-10,37)(10,36)(0,35)(-7,35)(7,34)(-13,34)(13,33)(-4,33)(4,32)(-10,31)(10,30)(0,29)(-7,28)(7,27)(-13,26)(13,25)(-4,24)}
\clus{atp}{2.78}{(0,43)(-7,43)(7,41)(-13,39)(13,37)(-4,36)(4,35)(-10,34)(10,33)(0,32)(-7,31)(7,30)(-13,29)(13,28)(-4,27)(4,25)(-10,24)(10,23)(0,22)(-7,21)(7,20)}
\clus{atp}{3.80}{(0,44)(-7,44)(7,42)(-13,41)(13,40)(-4,39)(4,38)(-10,38)(10,37)(0,37)(-7,36)(7,36)(-13,35)(13,35)(-4,34)(4,34)(-10,33)(10,33)(0,32)(-7,31)(7,30)(-13,29)(13,28)}
\means{(0.26,9)+-(0,0.4)(0.77,32.5)+-(0,0.7)(1.24,8.5)+-(0,0.4)(1.71,34)+-(0,0.8)(2.24,16.3)+-(0,0.4)(2.78,31.3)+-(0,0.9)(3.27,8.5)+-(0,0.4)(3.80,35.3)+-(0,0.6)}
\ann{2.24}{26}{\$!}\ann{2.78}{47.6}{!}\ann{3.27}{16.6}{\#}\ann{3.80}{48}{\#}
\end{axis}
\end{tikzpicture}
\end{document}
